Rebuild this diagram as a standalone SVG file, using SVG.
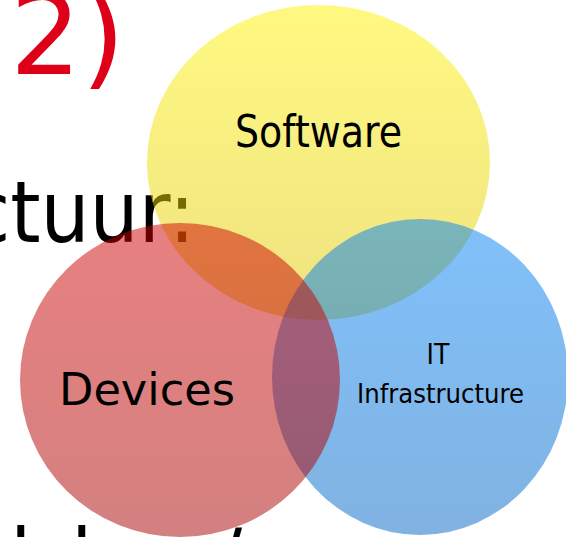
<svg xmlns="http://www.w3.org/2000/svg" width="566" height="537" viewBox="0 0 566 537">
  <defs>
    <linearGradient id="gy" x1="0" y1="0" x2="0" y2="1">
      <stop offset="0" stop-color="#FFF300" stop-opacity="0.5"/>
      <stop offset="1" stop-color="#DDC500" stop-opacity="0.5"/>
    </linearGradient>
    <linearGradient id="gb" x1="0" y1="0" x2="0" y2="1">
      <stop offset="0" stop-color="#0082F5" stop-opacity="0.5"/>
      <stop offset="1" stop-color="#0066C4" stop-opacity="0.5"/>
    </linearGradient>
    <linearGradient id="gr" x1="0" y1="0" x2="0" y2="1">
      <stop offset="0" stop-color="#D00000" stop-opacity="0.5"/>
      <stop offset="1" stop-color="#A80000" stop-opacity="0.5"/>
    </linearGradient>
  </defs>
  <style>
    .bg { font-family: "DejaVu Sans Condensed", "DejaVu Sans", sans-serif; font-stretch: condensed; fill: #000; }
    .lbl { font-family: "DejaVu Sans Condensed", "DejaVu Sans", sans-serif; font-stretch: condensed; fill: #000; text-anchor: middle; }
  </style>

  <g id="background-text">
    <text x="10" y="74" font-family="DejaVu Sans, sans-serif" font-size="112" fill="#DD0018">2)</text>
    <text class="bg" x="195" y="242" font-size="86" text-anchor="end">ctuur:</text>
    <text class="bg" x="10 71 216" y="590" font-size="86">ll/</text>
  </g>

  <g id="connectors"></g>

  <g id="node-software">
    <ellipse cx="318.5" cy="162.5" rx="171.5" ry="157.5" fill="url(#gy)"/>
    <text class="lbl" x="318.5" y="147" font-size="44" textLength="167" lengthAdjust="spacingAndGlyphs">Software</text>
  </g>

  <g id="node-it-infrastructure">
    <ellipse cx="420" cy="377" rx="148" ry="158" fill="url(#gb)"/>
    <text class="lbl" x="438" y="364" font-size="28">IT</text>
    <text class="lbl" x="440.5" y="403" font-size="27" textLength="167" lengthAdjust="spacingAndGlyphs">Infrastructure</text>
  </g>

  <g id="node-devices">
    <ellipse cx="180" cy="380" rx="160" ry="157" fill="url(#gr)"/>
    <text class="lbl" x="147" y="405" font-size="45" textLength="176" lengthAdjust="spacingAndGlyphs">Devices</text>
  </g>
</svg>
